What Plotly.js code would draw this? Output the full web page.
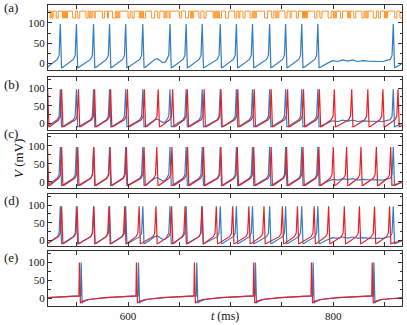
<!DOCTYPE html>
<html>
<head>
<meta charset="utf-8">
<script src="https://cdn.plot.ly/plotly-3.0.1.min.js"></script>
<style>
  html, body { margin: 0; padding: 0; background: #fff; }
  #plot { width: 407px; height: 325px; }
</style>
</head>
<body>
<div id="plot"></div>
<script>
// spike peak times (ms)
let blueSpikes = [519, 534, 549.7, 566.4, 582, 597.7, 614.4, 640.9, 656.6, 672.3, 689.9,
  705.6, 721.3, 738, 753.6, 769.3, 785, 858.5];
// recorded trace where it stays below threshold
let blueSubT = [622, 626, 628.5, 631, 634, 636.5, 794.5, 799.4, 804.3, 809.2, 814.1, 819,
  823.9, 828.8, 833.7, 838.6, 843.5, 848.4, 853.3, 872];
let blueSubV = [3, 10, 12, 7, 2, 4, 1, 7, 5, 9, 6, 9, 5, 7, 6, 5, 5, 5, 9, 7];

let redSpikesB = [521.7, 535.3, 551.7, 567.4, 583, 599.4, 615.9, 629.4, 643.5, 657.8, 674.2,
  690.6, 707, 723, 739.5, 755.5, 771, 786.5, 801, 818, 833.7, 848.4, 863.1];
let redSpikesC = [521.5, 535.3, 551, 566.7, 582.5, 598.4, 615.6, 628, 642.8, 658, 673.6,
  690.5, 706.5, 722.5, 739.5, 754.5, 770.5, 786, 800, 813, 827, 842, 856];
let redSpikesD = [519.5, 535.3, 550.4, 566.7, 581.4, 596.8, 610.8, 627.2, 642.5, 655.6, 672,
  686, 702, 717.8, 732.5, 750.4, 765.1, 781.4, 795.5, 810.8, 825.5, 840.2, 854.9];
let redEndV = 3;

let blueSpikesE = [497, 554.3, 610.2, 667, 724.2, 780.4, 839.6];
let redSpikesE = [495.5, 552.6, 608.2, 664.7, 722.5, 778.8, 838];

// one spike: offset from its peak (ms) and voltage (mV)
let shapeT = [-3, -1.2, 0, 1.2, 2.5];
let shapeV = [10, 20, 97, -10, -9];
let shapeET = [-0.5, 0, 1, 3, 8, 25];
let shapeEV = [7, 100, -13, -8, -3, 2];

// stimulus: alternating on/off durations (ms) from 522 ms, starting "on"
let stimStart = 522;
let stimDur = [2,1,1,1,3,2,4,1,1,1, 1,1,5,3,2,2,6,2,1,1, 1,1,2,1,7,2,3,1,4,3,
  1,1,1,1,8,2,2,2,5,1, 1,1,1,2,6,3,3,2,4,1, 1,1,2,1,9,2,4,3,2,1, 1,1,5,2,3,2,7,1,1,1,
  1,1,1,2,4,3,6,2,2,1, 3,2,5,2,1,1,1,1,8,3, 4,2,2,1,1,1,6,2,3,1, 5,2,4,1,1,1,1,1,7,2,
  3,2,6,3,2,1,1,1,4,2, 5,1,1,1, 3,2,6,2,1,1,1,1,5,3, 2,2,4,1,1,1,7,2,3,4];
let stimLevels = [129, 112];

let blue = '#2f7dc2', red = '#e8202a', orange = '#ff9226';

function train(spikes, sT, sV, extraT, extraV) {
  let pts = [];
  spikes.forEach(s => sT.forEach((dt, i) => pts.push([s + dt, sV[i]])));
  extraT.forEach((t, i) => pts.push([t, extraV[i]]));
  pts.sort((p, q) => p[0] - q[0]);
  return {x: pts.map(p => p[0]), y: pts.map(p => p[1])};
}

let stimX = [stimStart], stimY = [stimLevels[0]];
let tNow = stimStart;
stimDur.forEach((d, i) => {
  tNow += d;
  stimX.push(tNow);
  stimY.push(stimLevels[(i + 1) % 2]);
});

let blueTr = train(blueSpikes, shapeT, shapeV, blueSubT, blueSubV);
let data = [];
function line(tr, color, ax, w) {
  data.push({x: tr.x, y: tr.y, xaxis: 'x' + ax, yaxis: 'y' + ax, type: 'scatter', mode: 'lines',
    line: {color: color, width: w || 1.2}, hoverinfo: 'skip', showlegend: false});
}
data.push({x: stimX, y: stimY, xaxis: 'x', yaxis: 'y', type: 'scatter', mode: 'lines',
  line: {color: orange, width: 1, shape: 'hv'}, showlegend: false});
line(blueTr, blue, '');
[[redSpikesB, '2'], [redSpikesC, '3'], [redSpikesD, '4']].forEach(([rs, ax]) => {
  line(blueTr, blue, ax);
  line(train(rs, shapeT, shapeV, [872], [redEndV]), red, ax);
});
line(train(blueSpikesE, shapeET, shapeEV, [872], [3]), blue, '5');
line(train(redSpikesE, shapeET, shapeEV, [872], [3]), red, '5');

let serif = 'Liberation Serif';
let font = {family: serif, size: 11, color: '#111'};
function xax(anchor, labels) {
  return {anchor: anchor, range: [522, 867], showline: true, linecolor: '#333', linewidth: 1,
    mirror: 'ticks', ticks: 'inside', ticklen: 4, tickcolor: '#333', tickmode: 'array',
    tickvals: [600, 800], showticklabels: labels, showgrid: false, zeroline: false,
    minor: {ticks: 'inside', ticklen: 4, dtick: 50, tick0: 500, tickcolor: '#333', showgrid: false},
    tickfont: font, automargin: false, matches: anchor === 'y' ? undefined : 'x'};
}
function yax(dom, rng) {
  return {domain: dom, range: rng, showline: true, linecolor: '#333', linewidth: 1,
    mirror: 'ticks', ticks: 'inside', ticklen: 4, tickcolor: '#333', tickmode: 'array',
    tickvals: [0, 50, 100], showgrid: false, zeroline: false,
    minor: {ticks: 'inside', ticklen: 2.5, dtick: 25, tick0: 0, tickcolor: '#333', showgrid: false},
    tickfont: font, automargin: false};
}

let labelFont = {family: serif, size: 13, color: '#111'};
function panelLabel(txt, ypx) {
  return {text: txt, xref: 'paper', yref: 'paper', x: -0.13, y: (306 - ypx) / 301,
    xanchor: 'left', yanchor: 'middle', showarrow: false, font: labelFont};
}

let layout = {
  width: 407, height: 325,
  margin: {l: 48, r: 5, t: 5, b: 19},
  paper_bgcolor: '#fff', plot_bgcolor: '#fff',
  font: font,
  xaxis: xax('y', false), yaxis: yax([0.784, 1], [-16, 144]),
  xaxis2: xax('y2', false), yaxis2: yax([0.585, 0.762], [-19, 133]),
  xaxis3: xax('y3', false), yaxis3: yax([0.391, 0.570], [-18, 132]),
  xaxis4: xax('y4', false), yaxis4: yax([0.199, 0.371], [-17, 131]),
  xaxis5: xax('y5', true), yaxis5: yax([0, 0.183], [-21, 132]),
  annotations: [
    panelLabel('(a)', 8), panelLabel('(b)', 84), panelLabel('(c)', 133),
    panelLabel('(d)', 200), panelLabel('(e)', 257),
    {text: '<i>V</i> (mV)', xref: 'paper', yref: 'paper', x: -0.085, y: (306 - 158) / 301,
      textangle: -90, showarrow: false, xanchor: 'center', yanchor: 'middle', font: labelFont},
    {text: '<i>t</i> (ms)', xref: 'paper', yref: 'paper', x: (225 - 48) / 354, y: (306 - 316) / 301,
      showarrow: false, xanchor: 'center', yanchor: 'middle',
      font: {family: serif, size: 12, color: '#111'}}
  ]
};

Plotly.newPlot('plot', data, layout, {displayModeBar: false, staticPlot: true});
</script>
</body>
</html>
